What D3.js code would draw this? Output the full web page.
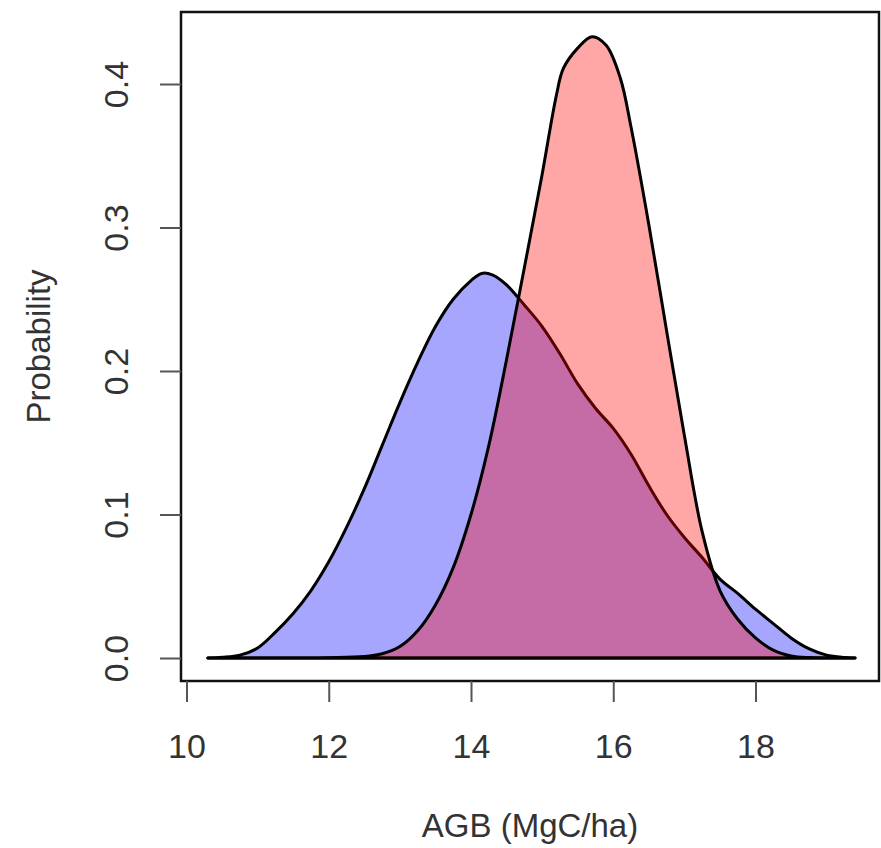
<!DOCTYPE html>
<html>
<head>
<meta charset="utf-8">
<script src="https://cdn.jsdelivr.net/npm/d3@7"></script>
<style>
  html, body { margin: 0; padding: 0; background: #fff; }
  svg { display: block; }
  text { font-family: "Liberation Sans", Arial, Helvetica, sans-serif; fill: #333; }
</style>
</head>
<body>
<svg id="chart" width="881" height="848"></svg>
<script>
// ---- data ----
const blueX = [10.3, 10.5, 10.75, 11.0, 11.25, 11.5, 11.75, 12.0, 12.25, 12.5, 12.75, 13.0, 13.25, 13.5, 13.75, 14.0, 14.15, 14.3, 14.5, 14.75, 15.0, 15.25, 15.5, 15.75, 16.0, 16.25, 16.5, 16.75, 17.0, 17.25, 17.5, 17.75, 18.0, 18.25, 18.5, 18.75, 19.0, 19.25, 19.4];
const blueY = [0, 0.0005, 0.002, 0.007, 0.018, 0.031, 0.047, 0.067, 0.091, 0.118, 0.148, 0.178, 0.206, 0.231, 0.250, 0.263, 0.268, 0.267, 0.260, 0.246, 0.231, 0.212, 0.191, 0.174, 0.160, 0.142, 0.120, 0.100, 0.084, 0.070, 0.055, 0.045, 0.034, 0.024, 0.014, 0.0065, 0.002, 0.0004, 0];
const redX = [10.3, 11.5, 12.0, 12.5, 12.75, 13.0, 13.25, 13.5, 13.75, 14.0, 14.25, 14.5, 14.75, 15.0, 15.2, 15.3, 15.5, 15.7, 15.9, 16.1, 16.25, 16.5, 16.75, 17.0, 17.25, 17.5, 17.75, 18.0, 18.25, 18.5, 18.75, 19.4];
const redY = [0, 0, 0.0002, 0.001, 0.003, 0.008, 0.019, 0.037, 0.063, 0.100, 0.148, 0.208, 0.272, 0.337, 0.392, 0.411, 0.425, 0.433, 0.427, 0.404, 0.370, 0.302, 0.228, 0.155, 0.088, 0.047, 0.027, 0.014, 0.0055, 0.0015, 0.0003, 0];
const xTicks = [10, 12, 14, 16, 18];
const yTicks = [0, 0.1, 0.2, 0.3, 0.4];
const xTitle = "AGB (MgC/ha)";
const yTitle = "Probability";

// ---- layout ----
const box = { left: 181, top: 12, right: 879, bottom: 681 };
const svg = d3.select("#chart");

const x = d3.scaleLinear().domain([10, 18]).range([186.5, 755.5]);
const y = d3.scaleLinear().domain([0, 0.4]).range([658, 84]);

const curveLine = d3.line()
  .x(d => x(d[0]))
  .y(d => y(Math.max(0, d[1])))
  .curve(d3.curveCatmullRom.alpha(0.5));

const bluePts = blueX.map((v, i) => [v, blueY[i]]);
const redPts = redX.map((v, i) => [v, redY[i]]);

// blue density polygon
svg.append("path")
  .attr("d", curveLine(bluePts) + "Z")
  .attr("fill", "rgba(0,0,255,0.35)")
  .attr("stroke", "#000")
  .attr("stroke-width", 3)
  .attr("stroke-linejoin", "round");

// red density polygon
svg.append("path")
  .attr("d", curveLine(redPts) + "Z")
  .attr("fill", "rgba(255,0,0,0.35)")
  .attr("stroke", "#000")
  .attr("stroke-width", 3)
  .attr("stroke-linejoin", "round");

// plot box
svg.append("rect")
  .attr("x", box.left).attr("y", box.top)
  .attr("width", box.right - box.left).attr("height", box.bottom - box.top)
  .attr("fill", "none").attr("stroke", "#111").attr("stroke-width", 2.5);

// x axis
const xAxis = d3.axisBottom(x).tickValues(xTicks).tickSize(21).tickSizeOuter(0).tickPadding(32)
  .tickFormat(d3.format("d"));
const gx = svg.append("g").attr("transform", `translate(0,${box.bottom})`).call(xAxis);
gx.select(".domain").remove();
gx.selectAll(".tick line").attr("stroke", "#555").attr("stroke-width", 2);
gx.selectAll(".tick text").attr("font-size", 34).style("fill", "#333")
  .attr("font-family", "Liberation Sans, Arial, sans-serif");

// y axis
const yAxis = d3.axisLeft(y).tickValues(yTicks).tickSize(21).tickSizeOuter(0)
  .tickFormat(d3.format(".1f"));
const gy = svg.append("g").attr("transform", `translate(${box.left},0)`).call(yAxis);
gy.select(".domain").remove();
gy.selectAll(".tick line").attr("stroke", "#555").attr("stroke-width", 2);
gy.selectAll(".tick text")
  .attr("font-size", 34).style("fill", "#333")
  .attr("font-family", "Liberation Sans, Arial, sans-serif")
  .attr("x", null).attr("dy", null)
  .attr("text-anchor", "middle")
  .attr("transform", "translate(-53,0) rotate(-90)");

// axis titles
svg.append("text")
  .attr("x", (box.left + box.right) / 2).attr("y", 837)
  .attr("text-anchor", "middle").attr("font-size", 33)
  .text(xTitle);

svg.append("text")
  .attr("transform", `translate(50,${(box.top + box.bottom) / 2}) rotate(-90)`)
  .attr("text-anchor", "middle").attr("font-size", 33)
  .text(yTitle);
</script>
</body>
</html>
